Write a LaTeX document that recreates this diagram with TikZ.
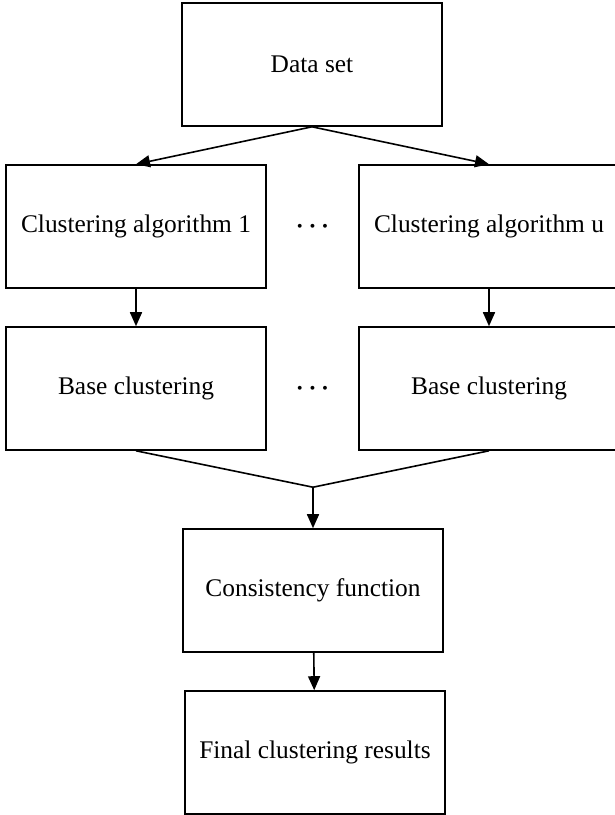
\documentclass[tikz,border=0pt]{standalone}
\usepackage{fontspec}
\setmainfont{Liberation Serif}
\usetikzlibrary{arrows.meta,calc}
\begin{document}
\begin{tikzpicture}[x=1pt,y=1pt,->,>={Triangle[length=14pt,width=12pt]},node distance=162pt,
  line width=1.6pt,
  box/.style={rectangle,draw,line width=1.6pt,minimum width=260pt,minimum height=123pt,
    font=\fontsize{25.4}{30}\selectfont}]
  \useasboundingbox (0,0) rectangle (615,-815);
  \node[box] (data) at (312,-64.5) {Data set};
  \node[box] (alg1) [below of=data,xshift=-176pt] {Clustering algorithm 1};
  \node[box] (algu) [below of=data,xshift=177pt] {Clustering algorithm u};
  \node[box] (base1) [below of=alg1] {Base clustering};
  \node[box] (baseu) [below of=algu] {Base clustering};
  \node[box] (cons) [below of=base1,xshift=177pt,yshift=-40pt] {Consistency function};
  \node[box] (final) [below of=cons,xshift=2pt] {Final clustering results};
  \node[font=\fontsize{28}{30}\selectfont\boldmath] (dots1) at ($(alg1)!0.5!(algu)$) {$\cdots$};
  \node[font=\fontsize{28}{30}\selectfont\boldmath] (dots2) at ($(base1)!0.5!(baseu)$) {$\cdots$};
  \coordinate (merge) at ($(cons.north)+(0,41)$);
  \draw (data.south)--(alg1.north);
  \draw (data.south)--(algu.north);
  \draw (alg1)--(base1);
  \draw (algu)--(baseu);
  \draw[-] (base1.south)--(merge);
  \draw[-] (baseu.south)--(merge);
  \draw (merge)--(cons);
  \draw (cons)--(final);
\end{tikzpicture}
\end{document}
